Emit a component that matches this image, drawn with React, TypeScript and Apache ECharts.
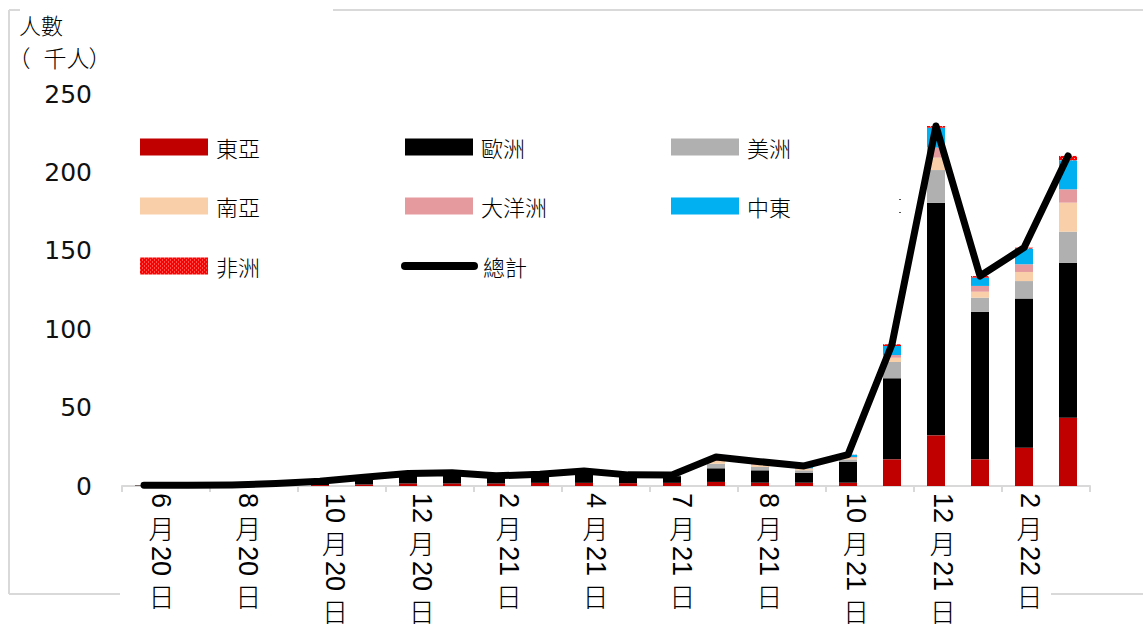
import React, { useEffect, useRef } from "react";
import * as echarts from "echarts";

// 22 monthly categories: Jun 2020 .. Mar 2022
const months = [
  "2020年6月", "2020年7月", "2020年8月", "2020年9月", "2020年10月", "2020年11月",
  "2020年12月", "2021年1月", "2021年2月", "2021年3月", "2021年4月", "2021年5月",
  "2021年6月", "2021年7月", "2021年8月", "2021年9月", "2021年10月", "2021年11月",
  "2021年12月", "2022年1月", "2022年2月", "2022年3月",
];

// axis labels (one per two months)
const tickLabels = [
  "6月20日", "8月20日", "10月20日", "12月20日", "2月21日", "4月21日",
  "7月21日", "8月21日", "10月21日", "12月21日", "2月22日",
];

const yTicks = [0, 50, 100, 150, 200, 250];

// values, thousands of persons
const eastAsia = [0.1, 0.1, 0.1, 0.3, 0.6, 1.0, 1.6, 1.6, 1.6, 2.0, 2.0, 1.8, 2.0, 2.6, 2.1, 2.1, 2.1, 17.0, 32.3, 17.0, 24.4, 43.6];
const europe = [0.3, 0.2, 0.4, 0.9, 1.8, 3.8, 5.6, 6.0, 4.2, 4.8, 6.5, 4.6, 4.3, 8.7, 7.9, 6.4, 13.4, 51.7, 148.4, 94.0, 95.1, 98.8];
const americas = [0.1, 0.1, 0.1, 0.2, 0.3, 0.4, 0.4, 0.4, 0.3, 0.3, 0.4, 0.3, 0.3, 2.9, 2.1, 1.5, 1.5, 10.4, 20.8, 9.1, 11.2, 19.8];
const southAsia = [0, 0, 0.1, 0.1, 0.1, 0.2, 0.2, 0.3, 0.2, 0.2, 0.3, 0.2, 0.2, 1.8, 1.5, 0.9, 1.0, 2.7, 7.9, 3.8, 5.8, 18.5];
const oceania = [0, 0, 0, 0, 0.1, 0.1, 0.1, 0.1, 0.1, 0.1, 0.1, 0.1, 0.1, 0.6, 0.6, 0.4, 0.5, 1.7, 6.4, 3.7, 4.9, 8.5];
const middleEast = [0, 0, 0, 0.1, 0.1, 0.1, 0.1, 0.1, 0.1, 0.1, 0.2, 0.1, 0.1, 1.7, 1.1, 1.3, 1.4, 5.8, 12.7, 5.3, 10.0, 18.5];
const africa = [0, 0, 0, 0, 0, 0, 0, 0, 0, 0, 0, 0, 0, 0.2, 0.2, 0.2, 0.1, 1.1, 1.1, 1.0, 0.6, 2.8];
const totals = [0.5, 0.4, 0.7, 1.6, 3.0, 5.6, 8.0, 8.5, 6.5, 7.5, 9.5, 7.1, 7.0, 18.5, 15.5, 12.8, 20.0, 90.4, 229.6, 133.9, 152.0, 210.5];

const CJK = '"Noto Sans CJK TC", "Noto Sans CJK SC", sans-serif';
const LATIN = '"Liberation Sans", Arial, sans-serif';

function makeAfricaPattern(): any {
  const c = document.createElement("canvas");
  c.width = 4;
  c.height = 4;
  const ctx = c.getContext("2d");
  if (!ctx) return "#ff0000";
  ctx.fillStyle = "#ff0000";
  ctx.fillRect(0, 0, 4, 4);
  ctx.fillStyle = "rgba(230,180,180,0.9)";
  ctx.fillRect(0, 0, 1, 1);
  ctx.fillRect(2, 2, 1, 1);
  return { image: c, repeat: "repeat" };
}

function buildLabel(lbl: string, cx: number, top: number) {
  const FS = 26;
  const DFS = 27;
  const GAP = 6;
  const parts = lbl.match(/\d+|[^\d]/g) || [];
  const children: any[] = [];
  let y = top;
  parts.forEach((p) => {
    if (/\d/.test(p)) {
      children.push({
        type: "text",
        x: cx,
        y,
        rotation: -Math.PI / 2,
        style: {
          text: p,
          font: `${DFS}px ${LATIN}`,
          fill: "#000",
          align: "left",
          verticalAlign: "middle",
        },
      });
      y += p.length * 0.556 * DFS;
    } else {
      children.push({
        type: "text",
        x: cx,
        y,
        style: {
          text: p,
          font: `300 ${FS}px ${CJK}`,
          fill: "#000",
          align: "center",
          verticalAlign: "top",
          lineHeight: FS,
        },
      });
      y += FS;
    }
    y += GAP;
  });
  return { type: "group", children };
}

export default function App() {
  const ref = useRef<HTMLDivElement>(null);

  useEffect(() => {
    if (!ref.current) return;
    const chart = echarts.init(ref.current, undefined, { renderer: "svg" });

    const barNames = ["東亞", "歐洲", "美洲", "南亞", "大洋洲", "中東", "非洲"];
    const barData = [eastAsia, europe, americas, southAsia, oceania, middleEast, africa];
    const barColors: any[] = ["#C00000", "#000000", "#B0B0B0", "#F8CFA8", "#E59A9D", "#00B0F0", makeAfricaPattern()];

    const legendPos: [number, number, string][] = [
      [140, 147, "東亞"], [405, 147, "歐洲"], [671, 147, "美洲"],
      [140, 206, "南亞"], [405, 206, "大洋洲"], [671, 206, "中東"],
      [140, 266, "非洲"],
    ];

    const legends: any[] = legendPos.map(([l, cy, name]) => ({
      data: [name],
      left: l,
      top: cy - 11,
      padding: 0,
      itemWidth: 68,
      itemHeight: 17,
      icon: "rect",
      selectedMode: false,
      textStyle: { fontSize: 22, fontFamily: CJK, fontWeight: 300, color: "#000", padding: [0, 0, 0, 3] },
    }));
    legends.push({
      data: ["總計"],
      left: 401,
      top: 266 - 11,
      padding: 0,
      itemWidth: 77,
      itemHeight: 8,
      icon: "path://M4,0 L73,0 A4,4 0 0 1 73,8 L4,8 A4,4 0 0 1 4,0 Z",
      selectedMode: false,
      textStyle: { fontSize: 22, fontFamily: CJK, fontWeight: 300, color: "#000" },
    });

    const series: any[] = barNames.map((name, i) => ({
      name,
      type: "bar",
      stack: "total",
      xAxisIndex: 0,
      yAxisIndex: 0,
      barWidth: 18,
      data: barData[i],
      itemStyle: { color: barColors[i] },
    }));
    series.push({
      name: "總計",
      type: "line",
      xAxisIndex: 0,
      yAxisIndex: 0,
      data: totals,
      symbol: "none",
      smooth: false,
      z: 5,
      itemStyle: { color: "#000" },
      lineStyle: { color: "#000", width: 7, cap: "round", join: "round" },
    });

    chart.setOption({
      animation: false,
      backgroundColor: "#fff",
      legend: legends,
      grid: [
        { left: 122, right: 53, top: 94, bottom: 144 },
        { left: 120, right: 68, top: 94, bottom: 144 },
      ],
      xAxis: [
        { type: "category", gridIndex: 0, data: months, show: false },
        {
          type: "category",
          gridIndex: 0,
          data: tickLabels,
          position: "bottom",
          axisLine: { show: true, lineStyle: { color: "#D9D9D9", width: 2 } },
          axisTick: { show: true, length: 6, lineStyle: { color: "#D9D9D9", width: 2 } },
          axisLabel: { show: false },
          splitLine: { show: false },
        },
        { type: "category", gridIndex: 1, data: tickLabels, show: false },
      ],
      yAxis: [
        {
          type: "value",
          gridIndex: 0,
          min: 0,
          max: 250,
          interval: 50,
          axisLine: { show: false },
          axisTick: { show: false },
          splitLine: { show: false },
          axisLabel: {
            margin: 30,
            fontSize: 25,
            fontFamily: '"DejaVu Sans", sans-serif',
            color: "#111",
            formatter: (v: number) => (yTicks.includes(v) ? String(v) : ""),
          },
        },
        { type: "value", gridIndex: 1, show: false },
      ],
      series,
    });

    const axisY = chart.convertToPixel({ yAxisIndex: 0 }, 0) as number;
    const labelGraphics = tickLabels.map((lbl) => {
      const cx = chart.convertToPixel({ xAxisIndex: 2 }, lbl) as number;
      return buildLabel(lbl, cx - 2, axisY + 7);
    });

    const frame = (x1: number, y1: number, x2: number, y2: number) => ({
      type: "line",
      shape: { x1, y1, x2, y2 },
      style: { stroke: "#D9D9D9", lineWidth: 2 },
      z: -1,
    });

    const nameChar = (text: string, x: number) => ({
      type: "text",
      x,
      y: 57,
      style: { text, font: `300 23px ${CJK}`, fill: "#000", align: "center", verticalAlign: "middle" },
    });

    chart.setOption({
      graphic: [
        frame(9, 10, 9, 594),
        frame(9, 10, 20, 10),
        frame(333, 10, 1143, 10),
        frame(9, 594, 120, 594),
        frame(1051, 594, 1143, 594),
        {
          type: "text",
          left: 19,
          top: 13,
          style: { text: "人數", font: `300 22px ${CJK}`, fill: "#000" },
        },
        nameChar("（", 19),
        nameChar("千", 55),
        nameChar("人", 78),
        nameChar("）", 100),
        { type: "rect", shape: { x: 899, y: 199, width: 2, height: 1 }, style: { fill: "#555" } },
        { type: "rect", shape: { x: 899, y: 212, width: 2, height: 1 }, style: { fill: "#555" } },
        ...labelGraphics,
      ],
    });

    return () => chart.dispose();
  }, []);

  return (
    <div
      ref={ref}
      style={{ position: "fixed", left: 0, top: 0, width: 1143, height: 630, background: "#fff" }}
    />
  );
}
